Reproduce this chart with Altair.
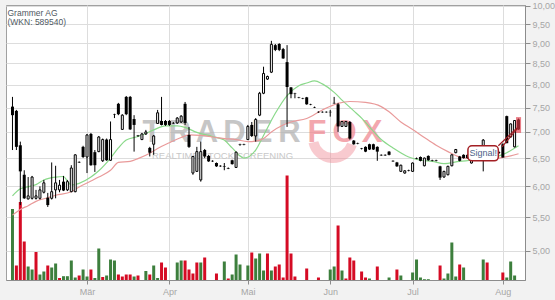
import altair as alt
import numpy as np
import pandas as pd

# ---------------- data ----------------
title_lines = ["Grammer AG", "(WKN: 589540)"]
month_labels = ["Mär", "Apr", "Mai", "Jun", "Jul", "Aug"]
month_first_day = [19, 40, 60, 81, 102, 125]          # trading-day index of first day of month
price_ticks = [5.0, 5.5, 6.0, 6.5, 7.0, 7.5, 8.0, 8.5, 9.0, 9.5, 10.0]

opens = [7.52, 7.43, 6.74, 6.20, 5.79, 5.80, 5.80, 5.80, 5.90, 5.81,
         5.80, 5.94, 5.94, 6.08, 5.94, 5.91, 5.91, 6.43, 6.71, 6.52,
         6.96, 6.61, 6.62, 6.45, 6.85, 6.46, 7.36, 7.58, 7.05, 7.73,
         7.73, 7.26, 6.93, 6.85, 6.96, 6.69, 6.76, 7.17, 7.22, 7.22,
         7.22, 7.18, 7.18, 7.20, 7.58, 6.94, 6.23, 6.26, 6.11, 6.65,
         6.54, 6.45, 6.41, 6.36, 6.35, 6.32, 6.46, 6.33, 6.76, 6.76,
         6.85, 7.14, 6.92, 7.34, 7.81, 8.13, 8.29, 8.95, 8.98, 8.85,
         8.53, 7.94, 7.81, 7.72, 7.70, 7.72, 7.57, 7.51, 7.41, 7.41,
         7.41, 7.41, 7.60, 7.57, 7.11, 7.11, 7.20, 6.83, 6.78, 6.68,
         6.71, 6.76, 6.76, 6.71, 6.56, 6.56, 6.62, 6.45, 6.42, 6.26,
         6.23, 6.28, 6.26, 6.50, 6.52, 6.36, 6.54, 6.46, 6.46, 6.35,
         6.16, 6.20, 6.36, 6.60, 6.53, 6.56, 6.56, 6.41, 6.54, 6.55,
         6.59, 6.57, 6.55, 6.56, 6.60, 6.76, 7.32, 6.90, 6.71, 7.25]
highs = [7.73, 7.45, 6.81, 6.28, 6.16, 6.18, 5.94, 6.00, 6.11, 5.89,
         6.42, 6.36, 6.11, 6.18, 6.11, 6.37, 6.57, 6.44, 6.73, 6.96,
         6.98, 6.65, 6.92, 6.87, 6.87, 7.21, 7.37, 7.60, 7.36, 7.75,
         7.75, 7.34, 6.94, 6.98, 7.04, 6.71, 6.94, 7.45, 7.73, 7.24,
         7.24, 7.20, 7.30, 7.34, 7.62, 7.10, 6.54, 6.71, 6.81, 6.67,
         6.56, 6.46, 6.42, 6.37, 6.41, 6.33, 6.47, 6.62, 6.77, 6.77,
         7.14, 7.20, 7.28, 7.84, 8.42, 8.21, 9.06, 8.98, 9.00, 8.88,
         8.95, 7.95, 7.82, 7.73, 7.71, 7.73, 7.58, 7.52, 7.42, 7.42,
         7.42, 7.45, 7.73, 7.60, 7.22, 7.22, 7.22, 6.84, 6.79, 6.69,
         6.72, 6.77, 6.77, 6.72, 6.57, 6.57, 6.63, 6.46, 6.43, 6.38,
         6.28, 6.29, 6.42, 6.51, 6.53, 6.51, 6.55, 6.47, 6.47, 6.36,
         6.27, 6.36, 6.57, 6.67, 6.54, 6.57, 6.57, 6.54, 6.55, 6.56,
         6.86, 6.58, 6.56, 6.58, 6.61, 6.78, 7.33, 7.17, 7.24, 7.27]
lows = [6.65, 6.65, 5.69, 5.79, 5.78, 5.78, 5.78, 5.78, 5.88, 5.66,
        5.78, 5.80, 5.90, 5.92, 5.92, 5.90, 5.90, 6.41, 6.50, 6.23,
        6.36, 6.25, 6.61, 6.43, 6.45, 6.45, 7.28, 7.34, 7.04, 7.34,
        7.04, 6.62, 6.90, 6.84, 6.94, 6.53, 6.56, 7.16, 7.13, 7.12,
        7.12, 7.16, 7.16, 7.18, 7.14, 6.69, 6.20, 6.25, 6.08, 6.50,
        6.43, 6.43, 6.34, 6.34, 6.28, 6.30, 6.38, 6.32, 6.73, 6.74,
        6.84, 6.90, 6.81, 7.32, 7.79, 8.11, 8.27, 8.80, 8.80, 8.61,
        7.10, 7.70, 7.70, 7.70, 7.68, 7.56, 7.55, 7.49, 7.39, 7.39,
        7.39, 7.31, 7.58, 7.00, 7.10, 7.10, 6.85, 6.75, 6.76, 6.66,
        6.61, 6.65, 6.65, 6.45, 6.54, 6.54, 6.55, 6.43, 6.34, 6.25,
        6.22, 6.26, 6.25, 6.48, 6.44, 6.35, 6.45, 6.44, 6.44, 6.11,
        6.15, 6.19, 6.35, 6.59, 6.44, 6.49, 6.49, 6.40, 6.52, 6.53,
        6.26, 6.55, 6.53, 6.55, 6.58, 6.51, 6.78, 6.89, 6.70, 7.04]
closes = [7.34, 6.71, 6.26, 5.80, 5.84, 6.16, 5.84, 5.94, 6.06, 5.69,
          5.91, 6.06, 6.02, 5.93, 6.08, 6.32, 6.56, 6.42, 6.52, 6.94,
          6.37, 6.37, 6.90, 6.85, 6.46, 6.85, 7.35, 7.36, 7.34, 7.36,
          7.05, 7.14, 6.92, 6.96, 7.00, 6.60, 6.92, 7.39, 7.14, 7.14,
          7.14, 7.17, 7.28, 7.32, 7.18, 6.71, 6.53, 6.62, 6.62, 6.53,
          6.44, 6.44, 6.35, 6.35, 6.34, 6.31, 6.39, 6.61, 6.75, 6.75,
          7.11, 6.92, 7.25, 7.81, 8.26, 8.19, 8.97, 8.83, 8.83, 8.62,
          7.95, 7.79, 7.80, 7.71, 7.69, 7.57, 7.56, 7.50, 7.40, 7.40,
          7.40, 7.40, 7.59, 7.11, 7.21, 7.21, 6.87, 6.76, 6.77, 6.67,
          6.62, 6.66, 6.66, 6.62, 6.55, 6.55, 6.56, 6.44, 6.35, 6.37,
          6.27, 6.27, 6.41, 6.49, 6.45, 6.50, 6.46, 6.45, 6.45, 6.15,
          6.26, 6.35, 6.56, 6.66, 6.45, 6.50, 6.50, 6.53, 6.53, 6.54,
          6.84, 6.56, 6.54, 6.57, 6.61, 6.51, 6.78, 7.16, 7.23, 7.05]
# volume (thousand shares) and its colour: g = up day, r = down day
volumes = [71, 14.5, 78, 38.5, 13.5, 10.5, 28, 5.5, 8.5, 14.5,
           12.5, 16.5, 2, 3.8, 3.8, 19.5, 2.5, 4.5, 10.5, 3.5,
           10.5, 2, 31.5, 3, 4.5, 20.5, 19.5, 5.5, 3.5, 5.5,
           5.5, 3.5, 4.5, 0, 9, 5.5, 14.5, 2, 17.5, 12.5,
           0, 0, 17.5, 19.5, 19.5, 10.5, 6.5, 17.5, 17.5, 22.5,
           0, 0, 6.5, 0, 18.5, 1.5, 5.5, 25.5, 15.5, 0,
           14.5, 27.5, 21.5, 26.5, 9.5, 26.5, 9.5, 13.5, 15.5, 2.5,
           104.5, 26.5, 3.5, 0, 0, 11.5, 0, 0, 2.5, 0,
           0, 10.5, 13.5, 54.5, 9.5, 1.5, 22.5, 19.5, 0, 8.5,
           2.5, 1.5, 0, 13.5, 0, 0, 2.5, 0, 10.5, 4.5,
           0, 0, 7.5, 20.5, 2.5, 0.8, 0.8, 0, 0, 14.5,
           1.5, 6.5, 37.5, 3.5, 15.5, 12.5, 0, 0, 0, 0,
           20.5, 17.5, 0, 0, 0, 7.5, 2.5, 18.5, 4.5, 0]
volume_dir = ("grrrggrggr" "ggrggggrgg" "rggrgggrrr" "rgrggrggrr" "rrggrrrrgr"
              "rrrrgrgggg" "grgggrgrrr" "rrrrrrrrrr" "gggrgrrrrr" "rggrrrgrrg"
              "ggggggggg" "r" "ggggrggggg" "grrrrrgggg")

ma_fast_day = [0, 2, 3, 6, 8, 11, 13, 14, 15, 17, 20, 22, 25, 27, 29, 32, 34, 36, 39, 42,
               44, 47, 51, 54, 56, 59, 62, 64, 67, 70, 73, 75, 77, 79, 82, 84, 87, 89, 91, 94,
               97, 101, 104, 107, 110, 114, 117, 121, 124, 126, 129]
ma_fast = [5.84, 5.96, 5.98, 6.03, 6.11, 6.16, 6.17, 6.09, 6.02, 6.05, 6.16, 6.27, 6.50, 6.69,
           6.84, 6.91, 6.97, 7.04, 7.12, 7.12, 7.09, 6.99, 6.91, 6.84, 6.69, 6.50, 6.65, 6.93,
           7.38, 7.76, 7.98, 8.04, 8.09, 8.02, 7.83, 7.66, 7.43, 7.28, 7.10, 6.85, 6.69, 6.52,
           6.46, 6.44, 6.40, 6.44, 6.46, 6.50, 6.54, 6.60, 6.73]
ma_slow_day = [0, 2, 4, 6, 9, 11, 15, 17, 20, 22, 25, 27, 30, 32, 35, 37, 40, 43, 45, 48,
               51, 54, 57, 60, 62, 64, 66, 69, 71, 75, 79, 83, 86, 90, 94, 96, 99, 102, 105, 108,
               111, 114, 117, 121, 124, 127, 129]
ma_slow = [5.53, 5.62, 5.68, 5.75, 5.81, 5.85, 5.91, 5.99, 6.09, 6.16, 6.28, 6.42, 6.44, 6.49,
           6.59, 6.68, 6.79, 6.89, 6.94, 6.93, 6.90, 6.87, 6.85, 6.81, 6.82, 6.87, 7.00, 7.14,
           7.20, 7.27, 7.45, 7.59, 7.63, 7.61, 7.52, 7.41, 7.20, 7.05, 6.89, 6.74, 6.62, 6.52,
           6.48, 6.46, 6.50, 6.54, 6.58]

signal_text = "Signal!"
signal_box = {"t0": [116.1], "t1": [123.85], "p0": [6.45], "p1": [6.73], "tc": [120.0], "pc": [6.585]}
signal_pointer = {"t0": [123.85, 124.8], "p0": [6.73, 6.71], "t1": [128.6, 128.6], "p1": [7.08, 7.06]}
highlight_box = {"t0": [128.35], "t1": [129.65], "p0": [6.98], "p1": [7.30]}

watermark_left = "TRADER"
watermark_right = "FOX"
watermark_sub = "REALTIME STOCK SCREENING"

# ---------------- tables ----------------
n = len(opens)
df = pd.DataFrame({"t": np.arange(n), "open": opens, "high": highs, "low": lows, "close": closes,
                   "vol": volumes, "vdir": list(volume_dir)})
df["top"] = df[["open", "close"]].max(axis=1)
df["bottom"] = df[["open", "close"]].min(axis=1)
df["kind"] = np.where(df["close"] > df["open"], "up", "down")

fast_df = pd.DataFrame({"t": ma_fast_day, "ma": ma_fast})
slow_df = pd.DataFrame({"t": ma_slow_day, "ma": ma_slow})
box_df = pd.DataFrame(signal_box)
ptr_df = pd.DataFrame(signal_pointer)
hl_df = pd.DataFrame(highlight_box)
one = pd.DataFrame({"a": [0]})

FONT = "Liberation Sans"

xs = alt.Scale(domain=[-0.375, n - 0.625], nice=False, zero=False)
month_expr = "".join(f"datum.value == {v} ? '{m}' : " for v, m in zip(month_first_day, month_labels)) + "''"
xaxis = alt.Axis(values=month_first_day, labelExpr=month_expr, title=None, grid=True,
                 tickSize=4, labelPadding=3, domain=True, labelFlush=False)
X = alt.X("t:Q", scale=xs, axis=xaxis)

ys = alt.Scale(type="log", domain=[4.602, 10.028], nice=False, zero=False)
yaxis = alt.Axis(orient="right", values=price_ticks,
                 labelExpr="replace(format(datum.value, '.2f'), '.', ',')",
                 title=None, grid=True, tickSize=5, labelPadding=2, domain=True, labelFlush=False)

def Y(field):
    return alt.Y(field, scale=ys, axis=yaxis)

# ---------------- layers ----------------
base = alt.Chart(df)

vol_layer = base.mark_bar(size=3).encode(
    x=X,
    y=alt.Y("vol:Q", scale=alt.Scale(domain=[0, 275], nice=False), axis=None),
    color=alt.Color("vdir:N", scale=alt.Scale(domain=["g", "r"], range=["#3d7f3d", "#d50b24"]), legend=None),
)

fast = alt.Chart(fast_df).mark_line(color="#8ad98a", strokeWidth=1.2, interpolate="monotone").encode(
    x=X, y=Y("ma:Q"))
slow = alt.Chart(slow_df).mark_line(color="#e99a9a", strokeWidth=1.2, interpolate="monotone").encode(
    x=X, y=Y("ma:Q"))

wicks = base.mark_rule(color="black", strokeWidth=1).encode(x=X, y=Y("low:Q"), y2="high:Q")
up = base.transform_filter("datum.kind == 'up'").mark_bar(
    size=2, fill="white", stroke="black", strokeWidth=1).encode(x=X, y=Y("bottom:Q"), y2="top:Q")
down = base.transform_filter("datum.kind == 'down'").mark_bar(
    size=3, color="black").encode(x=X, y=Y("bottom:Q"), y2="top:Q")

hl = alt.Chart(hl_df).mark_rect(fill="#e03c4a", opacity=0.65).encode(
    x=alt.X("t0:Q", scale=xs, axis=xaxis), x2="t1:Q", y=Y("p0:Q"), y2="p1:Q")
ptr = alt.Chart(ptr_df).mark_rule(color="#9e1c22", strokeWidth=1.2).encode(
    x=alt.X("t0:Q", scale=xs, axis=xaxis), x2="t1:Q", y=Y("p0:Q"), y2="p1:Q")
sbox = alt.Chart(box_df).mark_rect(fill="white", stroke="#a31f24", strokeWidth=1.5, cornerRadius=4).encode(
    x=alt.X("t0:Q", scale=xs, axis=xaxis), x2="t1:Q", y=Y("p0:Q"), y2="p1:Q")
stext = alt.Chart(box_df).mark_text(text=signal_text, font=FONT, fontSize=9, color="#4d5f88",
                                    baseline="middle", align="center").encode(
    x=alt.X("tc:Q", scale=xs, axis=xaxis), y=Y("pc:Q"))

price = alt.layer(fast, slow, wicks, up, down, hl, ptr, sbox, stext)

# title + watermark (decoration)
titles = [
    alt.Chart(one).mark_text(align="left", baseline="alphabetic", font=FONT, fontSize=8.5,
                             color="#4f5862").encode(x=alt.value(1.5), y=alt.value(11 + 9 * k),
                                                     text=alt.value(line))
    for k, line in enumerate(title_lines)
]
wm = []
# fox swirl of the logo
wm.append(alt.Chart(one).mark_arc(color="#ef8a94", opacity=0.45, radius=25, radius2=15,
                                  theta=1.9, theta2=4.5).encode(x=alt.value(327), y=alt.value(133)))
letters = watermark_left + watermark_right
for k, ch in enumerate(letters):
    col = "#b3b3b3" if k < len(watermark_left) else "#ef8a94"
    wm.append(alt.Chart(one).mark_text(align="center", baseline="alphabetic", font=FONT, fontSize=31,
                                       fontWeight="bold", color=col, opacity=0.75).encode(
        x=alt.value(146 + 27.5 * k), y=alt.value(137), text=alt.value(ch)))
wm.append(alt.Chart(one).mark_text(align="left", baseline="alphabetic", font=FONT, fontSize=9.5,
                                   color="#c8c8c8").encode(
    x=alt.value(146), y=alt.value(154), text=alt.value(watermark_sub)))

chart = alt.layer(*titles, *wm, vol_layer, price).resolve_scale(y="independent").properties(
    width=519, height=275,
    autosize=alt.AutoSizeParams(type="none"),
    padding={"left": 6, "top": 5, "right": 30, "bottom": 20},
    background="#f2f2f2",
).configure_view(fill="white", stroke="#a0a0a0", strokeWidth=1).configure_axis(
    domainColor="#8c8c8c", tickColor="#8c8c8c", labelColor="#a6a6a6", labelFont=FONT,
    labelFontSize=9, gridColor="#dddddd", gridWidth=1)

chart.save("out.html", embed_options={"renderer": "svg", "actions": False})
